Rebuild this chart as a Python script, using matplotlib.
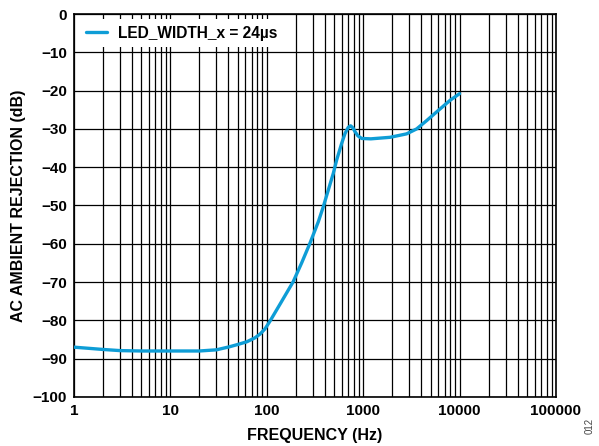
import numpy as np
import matplotlib.pyplot as plt
from matplotlib.ticker import FixedLocator, FuncFormatter, LogLocator, NullFormatter

plt.rcParams['font.family'] = ['Liberation Sans', 'DejaVu Sans']
plt.rcParams['font.weight'] = 'bold'

# rejection vs ambient frequency
freq_hz = [1, 2, 3, 5, 10, 20, 30, 41, 50, 62, 75, 85, 96, 108, 137, 188, 230, 281,
           343, 386, 490, 531, 598, 648, 700, 741, 780, 822, 880, 965, 1200, 1900,
           2820, 3590, 4570, 6070, 8000, 10000]
rejection_db = [-87.0, -87.6, -87.9, -88.0, -88.0, -88.0, -87.7, -86.9, -86.3, -85.6,
                -84.6, -83.6, -82.2, -80.2, -75.8, -69.9, -65.0, -59.8, -54.2, -50.3,
                -41.6, -38.1, -33.8, -31.2, -29.6, -29.2, -29.7, -30.7, -31.8, -32.5,
                -32.6, -32.2, -31.3, -30.0, -27.8, -25.1, -22.5, -20.8]
series_label = 'LED_WIDTH_x = 24µs'

yticks = list(range(-100, 1, 10))
xticks = [1, 10, 100, 1000, 10000, 100000]

fig = plt.figure(figsize=(5.99, 4.46), dpi=100)
ax = fig.add_axes([0.1235, 0.110, 0.8047, 0.8586])

ax.plot(freq_hz, rejection_db, color='#0e9dd6', lw=2.4, label=series_label,
        solid_capstyle='round', solid_joinstyle='round', zorder=3)

ax.set_xscale('log')
ax.set_xlim(1, 100000)
ax.set_ylim(-100, 0)
ax.xaxis.set_major_locator(FixedLocator(xticks))
ax.xaxis.set_major_formatter(FuncFormatter(lambda v, p: f'{int(round(v))}'))
ax.xaxis.set_minor_locator(LogLocator(base=10, subs=np.arange(2, 10)))
ax.xaxis.set_minor_formatter(NullFormatter())
ax.set_yticks(yticks)

ax.grid(True, which='both', axis='x', color='black', lw=0.9)
ax.grid(True, which='major', axis='y', color='black', lw=0.9)
ax.tick_params(which='both', length=0, labelsize=11, pad=5)
for s in ax.spines.values():
    s.set_linewidth(1.2)

ax.set_xlabel('FREQUENCY (Hz)', fontsize=11.5, fontweight='bold', labelpad=7)
ax.set_ylabel('AC AMBIENT REJECTION (dB)', fontsize=11.5, fontweight='bold', labelpad=5)

leg = ax.legend(loc='upper left', frameon=True, fancybox=False, framealpha=1,
                edgecolor='white', handlelength=1.4, handletextpad=0.7,
                borderaxespad=0.35, prop={'size': 11.2, 'weight': 'bold'})
leg.get_frame().set_linewidth(0)

fig.text(0.985, 0.045, '012', rotation=90, fontsize=7, fontweight='normal',
         color='#444444', ha='center', va='center')

fig.savefig('out.png', dpi=100)
